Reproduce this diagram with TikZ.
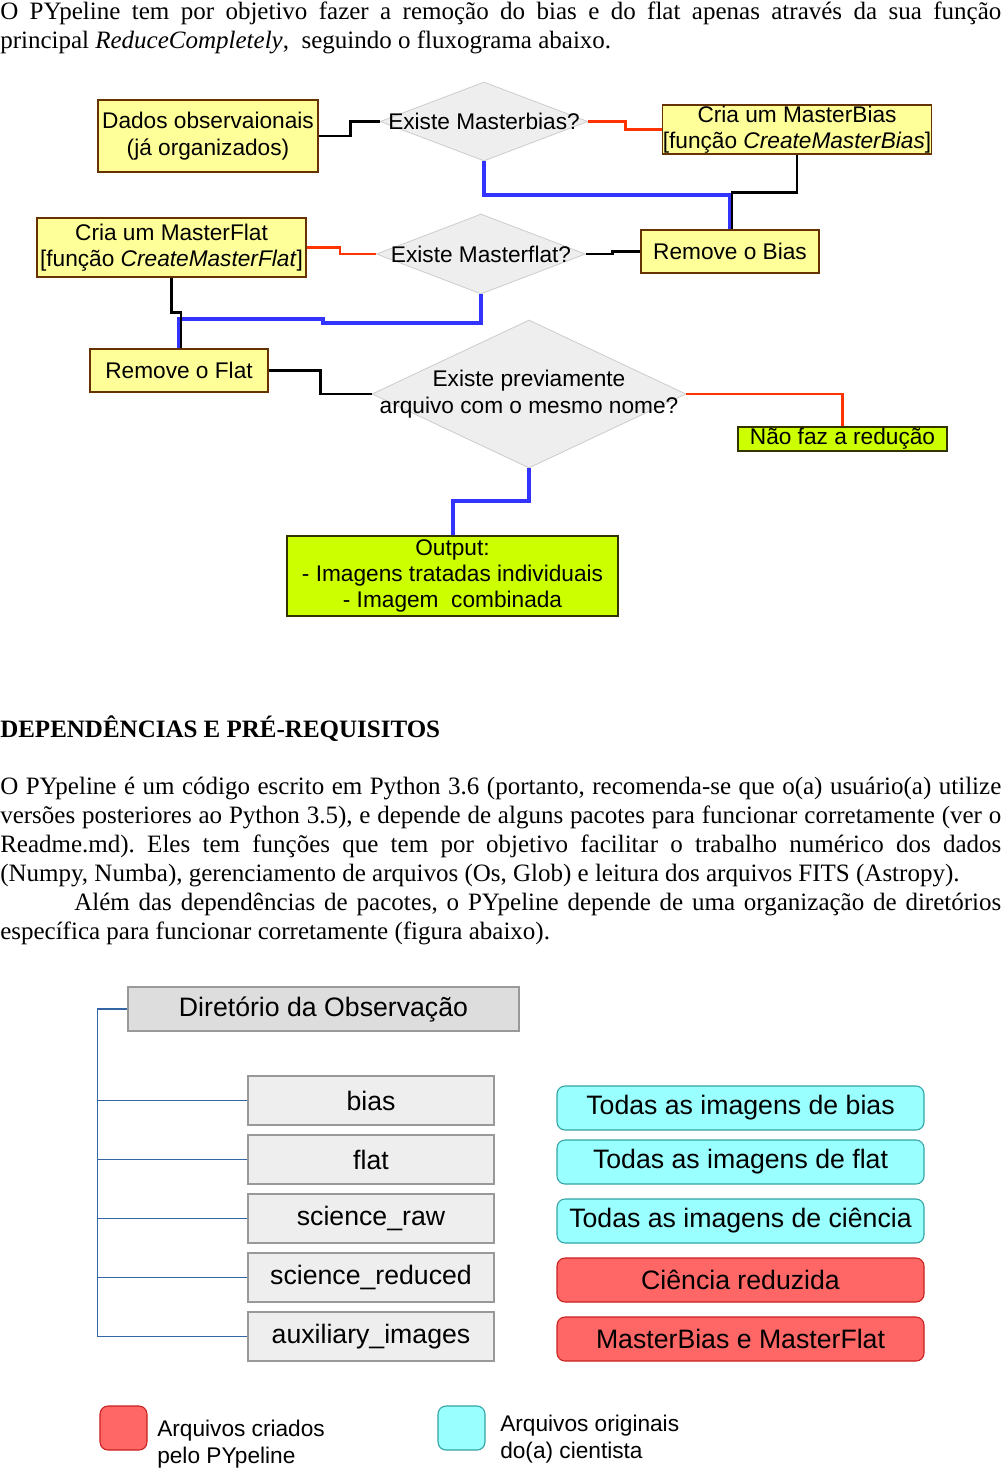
\documentclass[tikz,border=0pt]{standalone}
\usepackage{fontspec}
\setmainfont{Liberation Serif}
\setsansfont{Liberation Sans}
\usetikzlibrary{shapes.geometric, positioning}
\frenchspacing

\def\pxu{0.75pt}
\definecolor{boxyellow}{HTML}{FFFF99}
\definecolor{boxedge}{HTML}{663300}
\definecolor{boxlime}{HTML}{CCFF00}
\definecolor{limeedge}{HTML}{333300}
\definecolor{diagfill}{HTML}{EEEEEE}
\definecolor{diagedge}{HTML}{CCCCCC}
\definecolor{flowred}{HTML}{FF3300}
\definecolor{flowblue}{HTML}{3333FF}
\definecolor{dirgrey}{HTML}{999999}
\definecolor{dirfill}{HTML}{DDDDDD}
\definecolor{subfill}{HTML}{EEEEEE}
\definecolor{treeblue}{HTML}{3465A4}
\definecolor{origfill}{HTML}{99FFFF}
\definecolor{origedge}{HTML}{33A3A3}
\definecolor{madefill}{HTML}{FF6666}
\definecolor{madeedge}{HTML}{C9211E}

\begin{document}
\begin{tikzpicture}[
  x=\pxu, y=-\pxu,
  bodytext/.style={anchor=base west, inner sep=0pt, text width=1001*\pxu, align=justify,
                   font=\fontsize{18.75}{21.75}\selectfont},
  flowfont/.style={font=\sffamily\fontsize{17}{19.8}\selectfont},
  yellowbox/.style={flowfont, draw=boxedge, fill=boxyellow, line width=0.8pt, inner sep=0pt, align=center},
  limebox/.style={yellowbox, fill=boxlime, draw=limeedge},
  decision/.style={diamond, draw=diagedge, fill=diagfill, line width=0.6pt, inner sep=0pt},
  dectext/.style={flowfont, align=center, inner sep=0pt},
  blackline/.style={line width=2.2pt, black},
  redline/.style={line width=2pt, flowred},
  blueline/.style={line width=3pt, flowblue},
  dirbox/.style={draw=dirgrey, fill=dirfill, line width=0.8pt, inner sep=0pt,
                 font=\sffamily\fontsize{20}{24}\selectfont},
  subdir/.style={dirbox, fill=subfill, minimum width=246*\pxu, minimum height=49*\pxu},
  origbox/.style={dirbox, fill=origfill, draw=origedge, rounded corners=6pt,
                  minimum width=367*\pxu, minimum height=44*\pxu},
  madebox/.style={origbox, fill=madefill, draw=madeedge},
  keytext/.style={font=\sffamily\fontsize{17}{20.25}\selectfont, align=left, inner sep=0pt, anchor=west},
  treeline/.style={treeblue, line width=1.1pt}
]

\fill[white] (0,0) rectangle (1001,1471);
\useasboundingbox (0,0) rectangle (1001,1471);

% -------------------------
% Text of the page
% -------------------------

\node[bodytext] (intro) at (0,19.5) {O PYpeline tem por objetivo fazer a remoção do bias e do flat apenas através da sua função\linebreak
principal \textit{ReduceCompletely},~ seguindo o fluxograma abaixo.};

\node[bodytext] (heading) at (0,737) {\bfseries DEPENDÊNCIAS E PRÉ-REQUISITOS};

\node[bodytext] (deps) at (0,794) {O PYpeline é um código escrito em Python 3.6 (portanto, recomenda-se que o(a) usuário(a) utilize\linebreak
versões posteriores ao Python 3.5), e depende de alguns pacotes para funcionar corretamente (ver o\linebreak
Readme.md). Eles tem funções que tem por objetivo facilitar o trabalho numérico dos dados\linebreak
(Numpy, Numba), gerenciamento de arquivos (Os, Glob) e leitura dos arquivos FITS (Astropy).\par
\hspace*{55.5pt}Além das dependências de pacotes, o PYpeline depende de uma organização de diretórios\linebreak
específica para funcionar corretamente (figura abaixo).};

% -------------------------
% Flowchart boxes
% -------------------------

\node[yellowbox, minimum width=220*\pxu, minimum height=72*\pxu] (dados) at (208,136)
  {Dados observaionais\\(já organizados)};
\node[decision, minimum width=208*\pxu, minimum height=79*\pxu] (mbias) at (484,121.5) {};
\node[dectext] (mbiastxt) at (mbias) {Existe Masterbias?};
\node[yellowbox, minimum width=268*\pxu, minimum height=49*\pxu] (criabias) at (797,129.5)
  {Cria um MasterBias\\{}[função \textit{CreateMasterBias}]};
\node[yellowbox, minimum width=178*\pxu, minimum height=43*\pxu] (rmbias) at (730,251.5) {Remove o Bias};

\node[decision, minimum width=209*\pxu, minimum height=80*\pxu] (mflat) at (481,254) {};
\node[dectext] (mflattxt) at (mflat) {Existe Masterflat?};
\node[yellowbox, minimum width=269*\pxu, minimum height=59*\pxu] (criaflat) at (171.5,247.5)
  {Cria um MasterFlat\\{}[função \textit{CreateMasterFlat}]};
\node[yellowbox, minimum width=178*\pxu, minimum height=43*\pxu] (rmflat) at (179,370.5) {Remove o Flat};

\node[decision, minimum width=314*\pxu, minimum height=148*\pxu] (mfile) at (529,394) {};
\node[dectext] (mfiletxt) at (mfile) {Existe previamente\\arquivo com o mesmo nome?};
\node[limebox, minimum width=209*\pxu, minimum height=24*\pxu] (naofaz) at (842.5,439) {Não faz a redução};
\node[limebox, minimum width=331*\pxu, minimum height=80*\pxu] (output) at (452.5,576)
  {Output:\\- Imagens tratadas individuais\\- Imagem~ combinada};

% -------------------------
% Flowchart connectors
% -------------------------

\draw[blackline] (dados.east) -- ++(32,0) |- (mbias.west);
\draw[redline] (mbias.east) -- ++(37,0) |- (criabias.west);
\draw[blueline] (mbias.south) -- ++(0,34) -| (rmbias.north);
\draw[blackline] (criabias.south) -- ++(0,38) -| ([xshift=1.5pt]rmbias.north);

\draw[blackline] (rmbias.west) -- ++(-28,0) |- (mflat.east);
\draw[redline] (mflat.west) -- ++(-36,0) |- (criaflat.east);
\draw[blueline] (mflat.south) -- ++(0,29) -- ++(-158,0) -- ++(0,-4) -| (rmflat.north);
\draw[blackline] (criaflat.south) -- ++(0,35) -| ([xshift=1.5pt]rmflat.north);

\draw[blackline] (rmflat.east) -- ++(52,0) |- (mfile.west);
\draw[redline] (mfile.east) -| (naofaz.north);
\draw[blueline] (mfile.south) -- ++(0,33) -| (output.north);

% -------------------------
% Directory tree
% -------------------------

\node[dirbox, minimum width=391*\pxu, minimum height=44*\pxu] (dirobs) at (323.5,1009) {Diretório da Observação};

\foreach \name/\ypos/\txt in {bias/1100.5/bias, flat/1159.5/flat, sraw/1218.5/science\_raw,
                              sred/1277.5/science\_reduced, aux/1336.5/auxiliary\_images}
  \node[subdir] (\name) at (371,\ypos) {\txt};

\draw[treeline] (dirobs.west) -- ++(-30,0) |- (aux.west);
\foreach \name in {bias, flat, sraw, sred}
  \draw[treeline] (\name.west) -- ++(-150,0);

\foreach \name/\ypos/\kind/\txt in {fbias/1108/origbox/Todas as imagens de bias,
                                    fflat/1162/origbox/Todas as imagens de flat,
                                    fsci/1221/origbox/Todas as imagens de ciência,
                                    fred/1280/madebox/Ciência reduzida,
                                    fmaster/1339/madebox/MasterBias e MasterFlat}
  \node[\kind] (\name) at (740.5,\ypos) {\txt};

% -------------------------
% Legend
% -------------------------

\node[madebox, minimum width=47*\pxu, minimum height=44*\pxu] (keymade) at (123.5,1428) {};
\node[keytext] (keymadetxt) at (157,1444.5) {Arquivos criados\\pelo PYpeline};
\node[origbox, minimum width=47*\pxu, minimum height=44*\pxu] (keyorig) at (461.5,1428) {};
\node[keytext] (keyorigtxt) at (500,1439.5) {Arquivos originais\\do(a) cientista};

\end{tikzpicture}
\end{document}
